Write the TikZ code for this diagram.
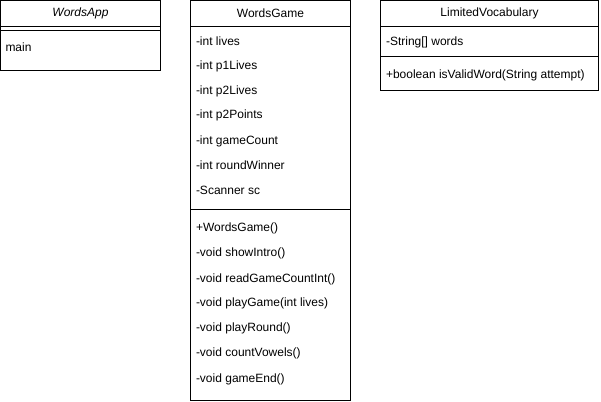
\documentclass[tikz,border=0pt]{standalone}
\usepackage{fontspec}
\setmainfont{Liberation Sans}
\usetikzlibrary{positioning}

\begin{document}
\begin{tikzpicture}[x=1pt,y=-1pt,line width=1pt,
        classtitle/.style={inner sep=0pt,font=\fontsize{12}{14}\selectfont},
        member/.style={anchor=base west,inner sep=0pt,font=\fontsize{12}{14}\selectfont}]
        \useasboundingbox (0,0) rectangle (601,401);
        % WordsApp
        \draw (0.5,0.5) rectangle (160.5,70.5);
        \draw (0.5,26.5) -- (160.5,26.5);
        \draw (0.5,30.5) -- (160.5,30.5);
        \node[classtitle] (app) at (80.5,13.5) {\itshape WordsApp};
        \node[member] (appmain) at (5,51.5) {main};
        % WordsGame
        \draw (190.5,0.5) rectangle (350.5,400.5);
        \draw (190.5,26.5) -- (350.5,26.5);
        \draw (190.5,209.5) -- (350.5,209.5);
        \node[classtitle] (game) at (270.5,13.5) {WordsGame};
        \foreach \txt/\y [count=\i] in {-int lives/42, -int p1Lives/66, -int p2Lives/91,
                -int p2Points/114, -int gameCount/140, -int roundWinner/165, -Scanner sc/190} {
            \node[member] (gattr\i) at (195.5,\y+4) {\txt};
        }
        \foreach \txt/\y [count=\i] in {+WordsGame()/227, -void showIntro()/252,
                -void readGameCountInt()/278, -void playGame(int lives)/302,
                -void playRound()/327, -void countVowels()/352, -void gameEnd()/378} {
            \node[member] (gop\i) at (195.5,\y+4) {\txt};
        }
        % LimitedVocabulary
        \draw (380.5,0.5) rectangle (598.5,90.5);
        \draw (380.5,26.5) -- (598.5,26.5);
        \draw (380.5,56.5) -- (598.5,56.5);
        \node[classtitle] (vocab) at (489.5,13.5) {LimitedVocabulary};
        \node[member] (vattr) at (385.5,46) {-String[] words};
        \node[member] (vop) at (385.5,79) {+boolean isValidWord(String attempt)};
    \end{tikzpicture}
\end{document}
